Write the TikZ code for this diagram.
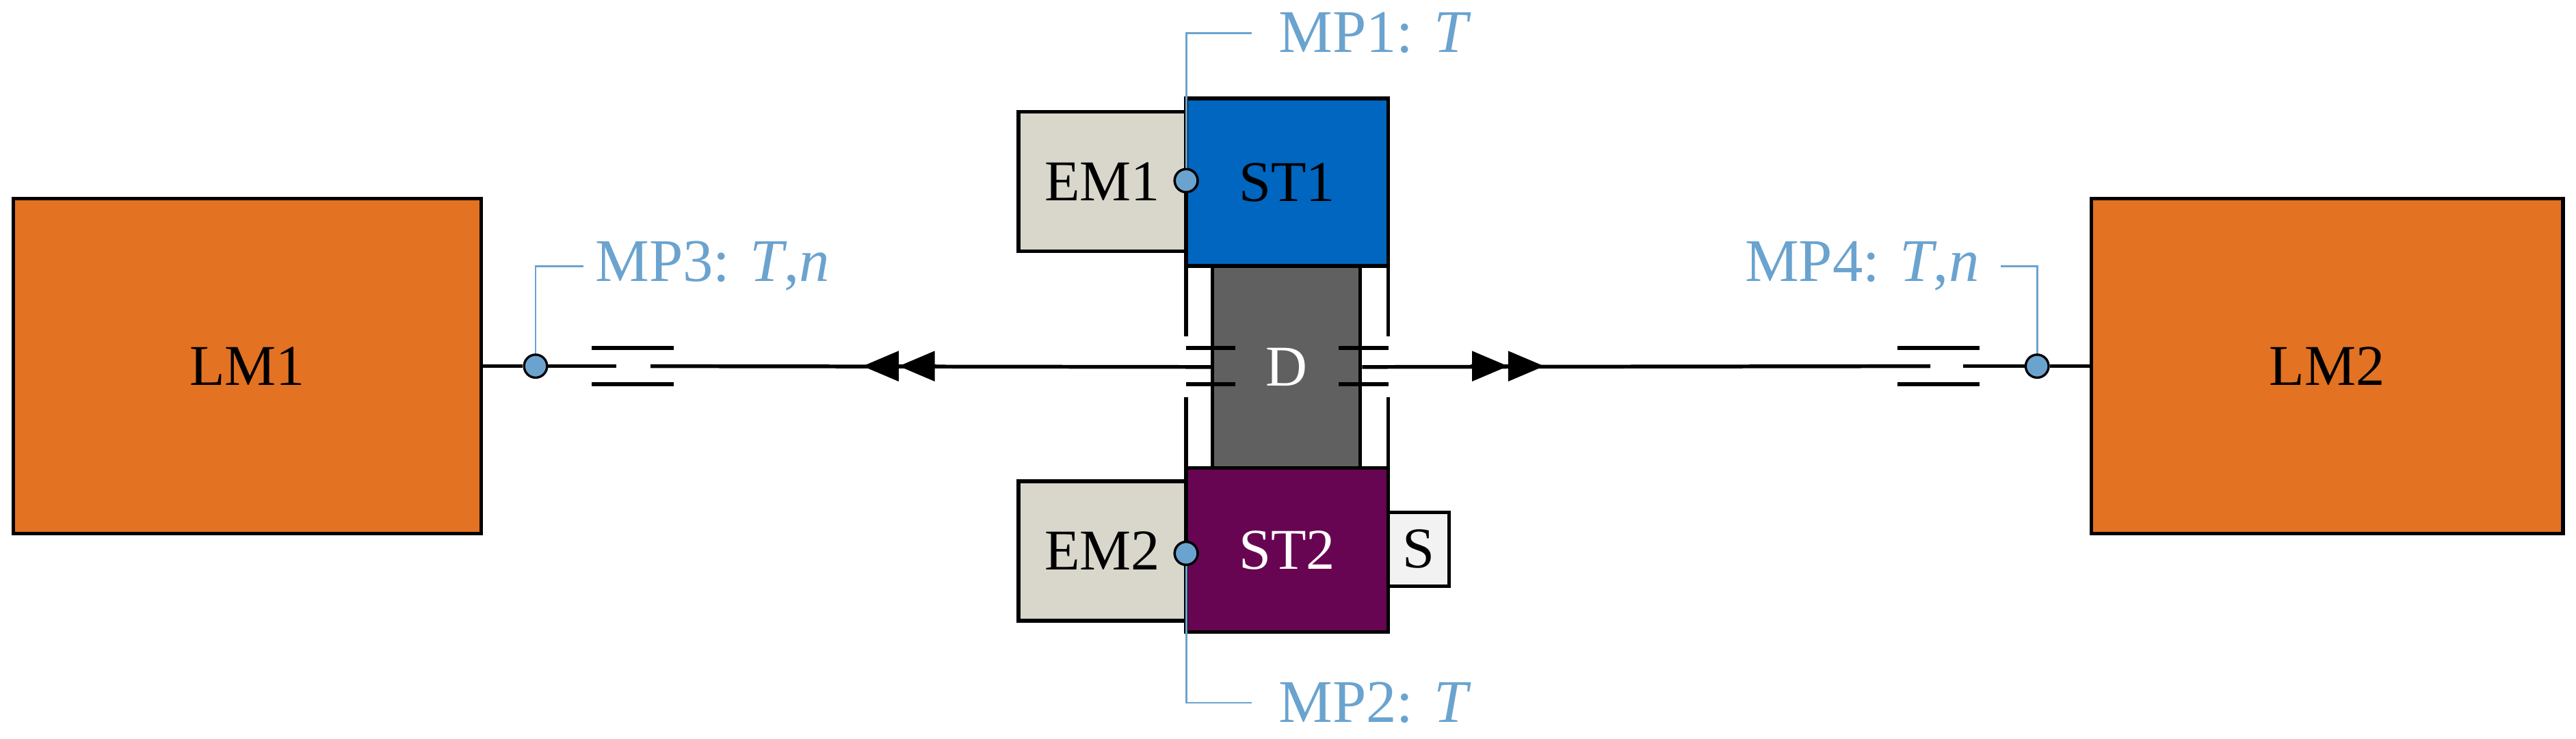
\documentclass[tikz,border=0pt]{standalone}
\usepackage{fontspec}
\setmainfont{Liberation Serif}
\usetikzlibrary{arrows.meta,positioning}
\definecolor{lmorange}{HTML}{E37222}
\definecolor{stblue}{HTML}{0066BF}
\definecolor{stpurple}{HTML}{680552}
\definecolor{dgray}{HTML}{606060}
\definecolor{embeige}{HTML}{D9D7CB}
\definecolor{mpblue}{HTML}{6BA3CF}
\begin{document}
\begin{tikzpicture}[
    x=0.02cm, y=-0.02cm,
    box/.style={rectangle, draw=black, line width=1.3pt, inner sep=0pt, font=\fontsize{20}{24}\selectfont},
    shaft/.style={line width=1.3pt},
    leader/.style={draw=mpblue, line width=0.7pt},
    mp/.style={circle, draw=black, fill=mpblue, line width=0.8pt, minimum size=0.28cm, inner sep=0pt},
    mplabel/.style={text=mpblue, font=\fontsize{21}{24}\selectfont, inner sep=0pt},
    dbl/.style={shaft, -{Triangle[length=0.44cm,width=0.36cm]Triangle[length=0.44cm,width=0.36cm]}}
]
\useasboundingbox (0,0) rectangle (1568,450);

% load machines
\node[box, fill=lmorange, minimum width=5.7cm, minimum height=4.08cm] (lm1) at (150.5,223) {LM1};
\node[box, fill=lmorange, minimum width=5.74cm, minimum height=4.08cm] (lm2) at (1416.5,223) {LM2};

% drive unit
\node[box, fill=dgray, text=white, minimum width=1.8cm, minimum height=2.46cm] (d) at (783,223.5) {D};
\node[box, fill=embeige, minimum width=2.04cm, minimum height=1.7cm] (em1) at (671,110.5) {EM1};
\node[box, fill=stblue, minimum width=2.46cm, minimum height=2.04cm] (st1) at (783.5,111) {ST1};
\node[box, fill=embeige, minimum width=2.04cm, minimum height=1.7cm] (em2) at (671,335.5) {EM2};
\node[box, fill=stpurple, text=white, minimum width=2.46cm, minimum height=2.0cm] (st2) at (783.5,335) {ST2};
\node[box, fill=black!5, minimum width=0.74cm, minimum height=0.9cm] (s) at (863.5,334.5) {S};

% measuring points
\node[mp] (mp1) at (722,110) {};
\node[mp] (mp2) at (722,337) {};
\node[mp] (mp3) at (326,223) {};
\node[mp] (mp4) at (1240,223) {};
\node[mplabel, anchor=west] (mp1l) at (778,20) {MP1: \textit{T}};
\node[mplabel, anchor=west] (mp2l) at (778,428) {MP2: \textit{T}};
\node[mplabel, anchor=west] (mp3l) at (362,162) {MP3: \textit{T},\textit{n}};
\node[mplabel, anchor=east] (mp4l) at (1205,162) {MP4: \textit{T},\textit{n}};
\draw[leader] (mp1) |- ([xshift=-0.32cm]mp1l.west);
\draw[leader] (mp2) |- ([xshift=-0.32cm]mp2l.west);
\draw[leader] (mp3) |- ([xshift=-0.14cm]mp3l.west);
\draw[leader] (mp4) |- ([xshift=0.26cm]mp4l.east);

% shaft
\coordinate (c1a) at (375,223);
\coordinate (c1b) at (396,223);
\coordinate (c4a) at (1175,223);
\coordinate (c4b) at (1195,223);
\draw[shaft] (lm1.east) -- (mp3) -- (c1a);
\draw[shaft] (c1b) -- (d.west);
\draw[shaft] (d.east) -- (c4a);
\draw[shaft] (c4b) -- (mp4) -- (lm2.west);
\draw[dbl] (570,223) -- (525,223);
\draw[dbl] (895,223) -- (940,223);

% couplings
\foreach \cx in {360,1155} {
  \draw[shaft] (\cx,212) -- ++(50,0);
  \draw[shaft] (\cx,234) -- ++(50,0);
}
\draw[shaft] (722,212) -- (752,212) (722,234) -- (752,234);
\draw[shaft] (815,212) -- (845,212) (815,234) -- (845,234);
\foreach \vx in {722,845} {
  \draw[shaft] (\vx,162) -- (\vx,205);
  \draw[shaft] (\vx,242) -- (\vx,285);
}
\node[mp] at (mp1) {};
\node[mp] at (mp2) {};
\end{tikzpicture}
\end{document}
